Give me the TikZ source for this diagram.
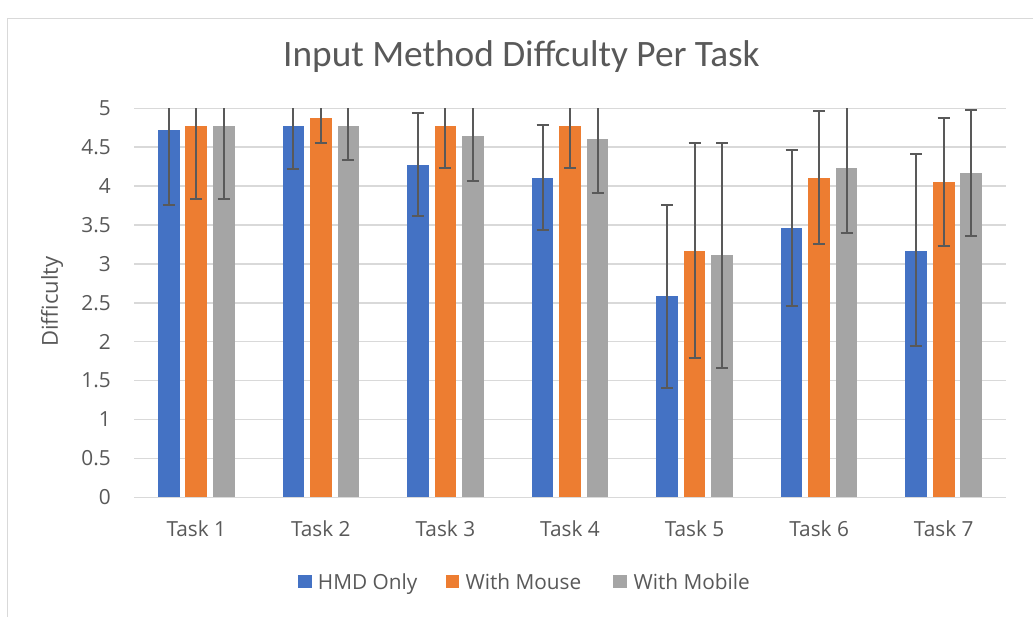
\documentclass[tikz,border=0pt]{standalone}
\usepackage{fontspec}
\setmainfont{Open Sans}
\newfontfamily\titlefont{Carlito}
\definecolor{hmd}{HTML}{4472C4}
\definecolor{mouse}{HTML}{ED7D31}
\definecolor{mobile}{HTML}{A5A5A5}
\definecolor{txt}{HTML}{595959}
\definecolor{gridc}{HTML}{D9D9D9}
\definecolor{errc}{HTML}{595959}

% one bar with its error bar: #1 centre x, #2 colour, #3 mean, #4 lower, #5 upper
% (an upper end of 5 runs off the top of the axis and gets no cap)
\newcommand\chartbar[5]{%
  \fill[#2] ({#1-10.85},497.3) rectangle ({#1+10.85},{497.3-77.8*#3});
  \draw[errbar] (#1,{497.3-77.8*#4}) -- (#1,{497.3-77.8*#5});
  \draw[errbar] ({#1-6},{497.3-77.8*#4}) -- ({#1+6},{497.3-77.8*#4});
  \ifdim #5pt<5pt
    \draw[errbar] ({#1-6},{497.3-77.8*#5}) -- ({#1+6},{497.3-77.8*#5});
  \fi
}

\begin{document}
\begin{tikzpicture}[x=1pt,y=-1pt,
  gridline/.style={gridc, line width=1.5pt},
  errbar/.style={errc, line width=2pt},
  lbl/.style={font=\fontsize{20.8}{25}\selectfont, text=txt, inner sep=0pt}]
\useasboundingbox (0,0) rectangle (1033,616);
\fill[white] (0,0) rectangle (1033,616);
% chart frame
\draw[gridc, line width=1.6pt] (7.5,640) -- (7.5,18.5) -- (1050,18.5);

% title
\node[font=\titlefont\fontsize{37.3}{44}\selectfont, text=txt, anchor=base, inner sep=0pt]
  (title) at (521.5,66) {Input Method Diffculty Per Task};

% horizontal gridlines and value axis labels
\foreach \v/\t [count=\k from 0] in {0/0,0.5/0.5,1/1,1.5/1.5,2/2,2.5/2.5,3/3,3.5/3.5,4/4,4.5/4.5,5/5}{
  \draw[gridline] (134,{497.3-77.8*\v}) -- (1006,{497.3-77.8*\v});
  \node[lbl, anchor=east] (ytick\k) at (111,{497.3-77.8*\v}) {\t};
}
\node[lbl, font=\fontsize{22}{26}\selectfont, rotate=90] (ytitle) at (52,301.5) {Difficulty};

% bars per task: HMD Only, With Mouse, With Mobile (mean/lower/upper)
\foreach \i/\a/\al/\ah/\b/\bl/\bh/\c/\cl/\ch in {
  1/4.72/3.76/5/4.77/3.83/5/4.77/3.83/5,
  2/4.77/4.22/5/4.88/4.56/5/4.77/4.34/5,
  3/4.27/3.61/4.94/4.77/4.23/5/4.65/4.07/5,
  4/4.10/3.43/4.78/4.77/4.23/5/4.60/3.91/5,
  5/2.585/1.41/3.76/3.17/1.795/4.55/3.115/1.66/4.56,
  6/3.465/2.46/4.47/4.11/3.256/4.97/4.23/3.40/5,
  7/3.17/1.94/4.41/4.05/3.226/4.88/4.17/3.36/4.98}{
  \pgfmathsetmacro\cx{134+124.57*(\i-0.5)}
  \chartbar{\cx-27.5}{hmd}{\a}{\al}{\ah}
  \chartbar{\cx}{mouse}{\b}{\bl}{\bh}
  \chartbar{\cx+27.5}{mobile}{\c}{\cl}{\ch}
  \node[lbl, anchor=base] (task\i) at (\cx,536) {Task \i};
}

% legend
\fill[hmd] (298.3,575) rectangle (311.7,588.3);
\node[lbl, anchor=base west] (leg1) at (317.7,589) {HMD Only};
\fill[mouse] (446,575) rectangle (459.3,588.3);
\node[lbl, anchor=base west] (leg2) at (465.3,589) {With Mouse};
\fill[mobile] (613.3,575) rectangle (626.7,588.3);
\node[lbl, anchor=base west] (leg3) at (633.3,589) {With Mobile};
\end{tikzpicture}
\end{document}
